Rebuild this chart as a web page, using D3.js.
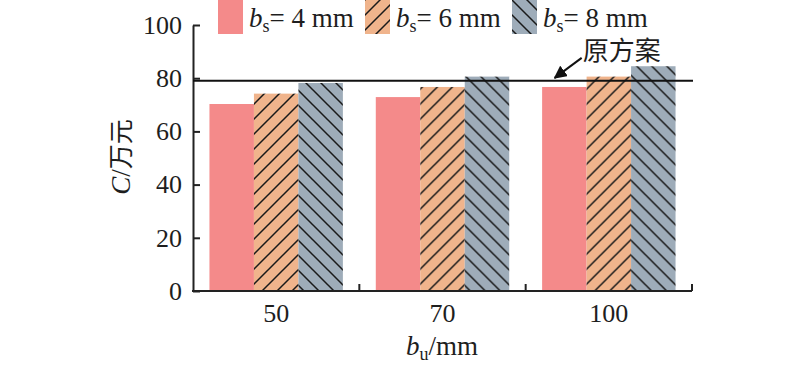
<!DOCTYPE html>
<html>
<head>
<meta charset="utf-8">
<script src="https://cdn.jsdelivr.net/npm/d3@7"></script>
<style>
  body { margin: 0; background: #fff; }
  text { font-family: "Liberation Serif", "Noto Sans CJK SC", serif; fill: #1e1e1e; }
</style>
</head>
<body>
<div id="chart"></div>
<script>
var width = 800;
var height = 368;

// data
var categories = ["50", "70", "100"];
var series = ["4", "6", "8"];
var cost4 = [70.3, 72.9, 76.7];
var cost6 = [74.2, 76.7, 80.6];
var cost8 = [78.2, 80.6, 84.5];
var yTicks = [0, 20, 40, 60, 80, 100];
var baseline = 79;   // 原方案

var values = [cost4, cost6, cost8];
var colors = ["#f48a8a", "#f0b48c", "#9eacb9"];
var fills = [colors[0], "url(#hatchA)", "url(#hatchB)"];

var plotLeft = 193, plotRight = 692, plotTop = 25, plotBottom = 291;

var svg = d3.select("#chart")
   .append("svg")
   .attr("width", width)
   .attr("height", height);

var defs = svg.append("defs");

// "/" hatch on orange
var pa = defs.append("pattern")
   .attr("id", "hatchA")
   .attr("patternUnits", "userSpaceOnUse")
   .attr("width", 15)
   .attr("height", 15);
pa.append("rect").attr("width", 15).attr("height", 15).attr("fill", colors[1]);
pa.append("path")
   .attr("d", "M-2,17 L17,-2 M-5,5 L5,-5 M10,20 L20,10")
   .attr("stroke", "#1a1a1a")
   .attr("stroke-width", 1.5);

// "\" hatch on gray
var pb = defs.append("pattern")
   .attr("id", "hatchB")
   .attr("patternUnits", "userSpaceOnUse")
   .attr("width", 15)
   .attr("height", 15);
pb.append("rect").attr("width", 15).attr("height", 15).attr("fill", colors[2]);
pb.append("path")
   .attr("d", "M-2,-2 L17,17 M-5,10 L5,20 M10,-5 L20,5")
   .attr("stroke", "#1a1a1a")
   .attr("stroke-width", 1.5);

defs.append("marker")
   .attr("id", "arrow")
   .attr("viewBox", "0 0 10 10")
   .attr("refX", 9)
   .attr("refY", 5)
   .attr("markerWidth", 6.5)
   .attr("markerHeight", 6.5)
   .attr("markerUnits", "strokeWidth")
   .attr("orient", "auto")
   .append("path")
   .attr("d", "M0,0 L10,5 L0,10 z")
   .attr("fill", "#111");

var x0 = d3.scaleBand()
   .domain(categories)
   .range([plotLeft, plotRight])
   .padding(0);

var x1 = d3.scaleBand()
   .domain(series)
   .range([0, x0.bandwidth()])
   .paddingInner(0)
   .paddingOuter(0.37);

var y = d3.scaleLinear()
   .domain([0, 100])
   .range([plotBottom, plotTop]);

// bars
var groups = svg.selectAll("g.grp")
   .data(categories)
   .enter()
   .append("g")
   .attr("class", "grp")
   .attr("transform", function(d) {
      return "translate(" + x0(d) + ",0)";
   });

groups.selectAll("rect")
   .data(function(d, i) {
      return series.map(function(s, j) { return { s: s, j: j, v: values[j][i] }; });
   })
   .enter()
   .append("rect")
   .attr("x", function(d) { return x1(d.s); })
   .attr("y", function(d) { return y(d.v); })
   .attr("width", x1.bandwidth())
   .attr("height", function(d) { return y(0) - y(d.v); })
   .attr("fill", function(d) { return fills[d.j]; });

// y axis
var yAxis = d3.axisLeft(y)
   .tickValues(yTicks)
   .tickSizeInner(-7)
   .tickSizeOuter(0)
   .tickPadding(11);

var gy = svg.append("g")
   .attr("transform", "translate(" + plotLeft + ",0)")
   .call(yAxis);
gy.select(".domain").attr("stroke", "#222").attr("stroke-width", 2);
gy.selectAll(".tick line").attr("stroke", "#222").attr("stroke-width", 2);
gy.selectAll(".tick text")
   .attr("font-size", "26px")
   .attr("font-family", "Liberation Serif")
   .attr("fill", "#1e1e1e");

// x axis: line plus group dividers
svg.append("line")
   .attr("x1", plotLeft - 1).attr("x2", plotRight)
   .attr("y1", y(0)).attr("y2", y(0))
   .attr("stroke", "#222").attr("stroke-width", 2);

svg.selectAll("line.div")
   .data(categories)
   .enter()
   .append("line")
   .attr("class", "div")
   .attr("x1", function(d) { return x0(d) + x0.bandwidth(); })
   .attr("x2", function(d) { return x0(d) + x0.bandwidth(); })
   .attr("y1", y(0))
   .attr("y2", y(0) - 7)
   .attr("stroke", "#222").attr("stroke-width", 2);

svg.selectAll("text.xt")
   .data(categories)
   .enter()
   .append("text")
   .attr("class", "xt")
   .attr("x", function(d) { return x0(d) + x0.bandwidth() / 2; })
   .attr("y", 322)
   .attr("text-anchor", "middle")
   .attr("font-size", "26px")
   .text(function(d) { return d; });

// x label
var xl = svg.append("text")
   .attr("x", 442)
   .attr("y", 355)
   .attr("text-anchor", "middle")
   .attr("font-size", "27px");
xl.append("tspan").attr("font-style", "italic").text("b");
xl.append("tspan").attr("font-size", "18px").attr("dy", 5).text("u");
xl.append("tspan").attr("dy", -5).text("/mm");

// y label
var yl = svg.append("text")
   .attr("transform", "translate(130,157) rotate(-90)")
   .attr("text-anchor", "middle")
   .attr("font-size", "27px");
yl.append("tspan").attr("font-style", "italic").text("C");
yl.append("tspan").text("/");
yl.append("tspan").attr("font-family", "Noto Sans CJK SC").attr("font-size", "25px").text("万元");

// reference line (原方案)
svg.append("line")
   .attr("x1", plotLeft).attr("x2", plotRight + 1)
   .attr("y1", y(baseline)).attr("y2", y(baseline))
   .attr("stroke", "#111").attr("stroke-width", 2);

var ax = x0("100") + 29;
svg.append("line")
   .attr("x1", ax + 27).attr("y1", y(baseline) - 23)
   .attr("x2", ax).attr("y2", y(baseline) - 3)
   .attr("stroke", "#111")
   .attr("stroke-width", 2)
   .attr("marker-end", "url(#arrow)");

svg.append("text")
   .attr("x", ax + 28)
   .attr("y", 60)
   .attr("font-family", "Noto Sans CJK SC")
   .attr("font-size", "26px")
   .text("原方案");

// legend
var legend = svg.selectAll("g.leg")
   .data(series)
   .enter()
   .append("g")
   .attr("class", "leg")
   .attr("transform", function(d, i) {
      return "translate(" + (218 + i * 147) + ",0)";
   });

legend.append("rect")
   .attr("width", 25)
   .attr("height", 34)
   .attr("fill", function(d, i) { return fills[i]; });

var lt = legend.append("text")
   .attr("x", 31)
   .attr("y", 27)
   .attr("font-size", "27px");
lt.append("tspan").attr("font-style", "italic").text("b");
lt.append("tspan").attr("font-size", "18px").attr("dy", 5).text("s");
lt.append("tspan").attr("dy", -5).text(function(d) { return "= " + d + " mm"; });
</script>
</body>
</html>
